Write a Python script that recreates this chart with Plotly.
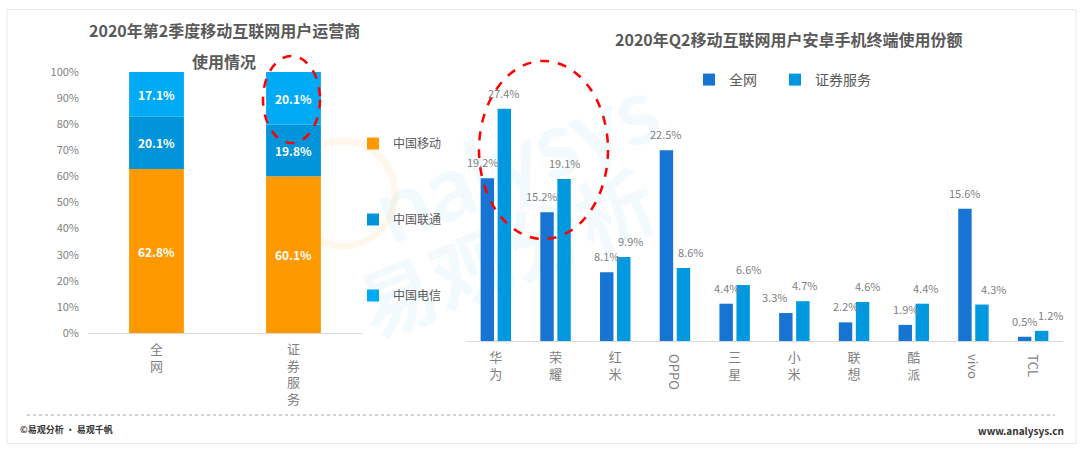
import plotly.graph_objects as go

W, H = 1080, 451

# ---------------- data ----------------
op_cats = ["全网", "证券服务"]
op_names = ["中国移动", "中国联通", "中国电信"]
op_mobile = [62.8, 60.1]
op_unicom = [20.1, 19.8]
op_telecom = [17.1, 20.1]
op_colors = ["#FF9900", "#0095DA", "#00AAF5"]

brand_cats = ["华为", "荣耀", "红米", "OPPO", "三星", "小米", "联想", "酷派", "vivo", "TCL"]
share_all = [19.2, 15.2, 8.1, 22.5, 4.4, 3.3, 2.2, 1.9, 15.6, 0.5]
share_sec = [27.4, 19.1, 9.9, 8.6, 6.6, 4.7, 4.6, 4.4, 4.3, 1.2]
share_names = ["全网", "证券服务"]
share_colors = ["#1874D2", "#0099E0"]

left_title = ["2020年第2季度移动互联网用户运营商", "使用情况"]
right_title = "2020年Q2移动互联网用户安卓手机终端使用份额"
footer_left = "©易观分析 · 易观千帆"
footer_right = "www.analysys.cn"

# ---------------- style ----------------
FONT = "Noto Sans CJK SC"
# small horizontal nudges of the value labels (px), as in the original layout
label_nudge = [
    [-4, -5, 0, 0, 0, -11, 0, 0, 0, 0],
    [0, 1, 7, 7, 5, 2, 5, 3, 12, 9],
]

# the page is photographed with an 8px band above/below and squeezed to 451px
Y_OFF, Y_SCALE = 8.0, 435.0 / 451.0


def px(x):
    return x / W


def py(y):
    return 1 - ((y - Y_OFF) / Y_SCALE) / H


fig = go.Figure()

# ---------- left stacked bars ----------
series = [op_mobile, op_unicom, op_telecom]
base = [0.0] * len(op_cats)
for name, vals, col in zip(op_names, series, op_colors):
    fig.add_trace(go.Bar(
        x=op_cats, y=vals, base=list(base), width=0.40,
        name=name, legend="legend", legendgroup=name,
        marker=dict(color=col, line=dict(width=0)),
        text=[f"{v:.1f}%" for v in vals], textposition="inside",
        insidetextanchor="middle", constraintext="none",
        textfont=dict(color="white", size=12, family=FONT, weight="bold"),
        xaxis="x", yaxis="y", hoverinfo="skip",
    ))
    base = [b + v for b, v in zip(base, vals)]

# ---------- right grouped bars ----------
offsets = [-0.255, 0.03]
bw = 0.225
cat_px = (1063 - 466) / len(brand_cats)
legends = ["legend2", "legend3"]
for k, (name, vals, col, off) in enumerate(zip(share_names, [share_all, share_sec], share_colors, offsets)):
    fig.add_trace(go.Bar(
        x=brand_cats, y=vals, width=bw, offset=off,
        name=name, legend=legends[k],
        marker=dict(color=col, line=dict(width=0)),
        xaxis="x2", yaxis="y2", hoverinfo="skip",
    ))
    shift = (off + bw / 2) * cat_px
    for c, v, dx in zip(brand_cats, vals, label_nudge[k]):
        fig.add_annotation(
            x=c, y=v, xref="x2", yref="y2", xshift=shift + dx, yshift=6,
            xanchor="center", yanchor="bottom", text=f"{v:.1f}%", showarrow=False,
            font=dict(size=11, color="#808080", family=FONT),
        )

# Latin category labels drawn rotated (Chinese ones are stacked tick labels)
tick_text = []
for c in brand_cats:
    if c.isascii():
        tick_text.append("")
        fig.add_annotation(
            x=c, xref="x2", y=py(351), yref="paper", xanchor="center", yanchor="top",
            text=c, textangle=90, showarrow=False,
            font=dict(size=13, color="#7F7F7F", family=FONT),
        )
    else:
        tick_text.append("<br>".join(c))


# ---------- titles & footer ----------
def label(x, y, text, size, color, xanchor="center", bold=True):
    fig.add_annotation(x=px(x), y=py(y), xref="paper", yref="paper", xanchor=xanchor,
                       yanchor="middle", text=text, showarrow=False,
                       font=dict(size=size, color=color, family=FONT,
                                 weight="bold" if bold else "normal"))


label(224, 29, left_title[0], 16, "#595959")
label(224, 60, left_title[1], 16, "#595959")
label(789, 38, right_title, 16, "#595959")
label(18, 428, footer_left, 9, "#333333", xanchor="left")
label(1066, 429, footer_right, 10, "#333333", xanchor="right")

shapes = [
    # frame
    dict(type="rect", xref="paper", yref="paper", x0=px(7), x1=px(1076), y0=0.001, y1=0.999,
         line=dict(color="#E8E8E8", width=1), layer="below"),
    # dotted separator
    dict(type="line", xref="paper", yref="paper", x0=px(27), x1=px(1055), y0=py(414), y1=py(414),
         line=dict(color="#A6A6A6", width=1, dash="dot")),
    # watermark
    dict(type="rect", xref="paper", yref="paper", x0=px(330), x1=px(700), y0=py(250), y1=py(60),
         line=dict(width=0), fillcolor="rgba(0,0,0,0)", layer="below",
         label=dict(text="nalysys", textangle=-22, textposition="middle center",
                    font=dict(size=92, color="rgba(0,160,233,0.05)", family="Lato", weight="bold"))),
    dict(type="rect", xref="paper", yref="paper", x0=px(360), x1=px(660), y0=py(330), y1=py(190),
         line=dict(width=0), fillcolor="rgba(0,0,0,0)", layer="below",
         label=dict(text="易观分析", textangle=-22, textposition="middle center",
                    font=dict(size=78, color="rgba(0,160,233,0.05)", family=FONT, weight="bold"))),
    dict(type="circle", xref="paper", yref="paper", x0=px(290), x1=px(395), y0=py(245), y1=py(140),
         line=dict(color="rgba(255,153,0,0.08)", width=7), layer="below"),
    # red dashed highlight ellipses
    dict(type="circle", xref="paper", yref="paper", x0=px(263), x1=px(320), y0=py(142), y1=py(55),
         line=dict(color="#FF0000", width=2.5, dash="dash")),
    dict(type="circle", xref="paper", yref="paper", x0=px(479), x1=px(608), y0=py(238), y1=py(60),
         line=dict(color="#FF0000", width=2.5, dash="dash")),
]

fig.update_layout(
    width=W, height=H, autosize=False,
    margin=dict(l=0, r=0, t=0, b=0),
    paper_bgcolor="white", plot_bgcolor="rgba(0,0,0,0)",
    barmode="overlay",
    font=dict(family=FONT, color="#595959"),
    showlegend=True,
    shapes=shapes,
    xaxis=dict(domain=[px(88), px(362)], range=[-0.5, 1.5], type="category",
               showline=True, linecolor="#D9D9D9", linewidth=1, ticks="",
               tickmode="array", tickvals=op_cats, ticktext=["<br>".join(c) for c in op_cats],
               tickfont=dict(size=13, color="#7F7F7F"), ticklabelstandoff=4,
               showgrid=False, zeroline=False, fixedrange=True, anchor="y"),
    yaxis=dict(domain=[py(332), py(71)], range=[0, 100], dtick=10, ticksuffix="%",
               showgrid=False, zeroline=False, showline=False, ticks="",
               tickfont=dict(size=11, color="#7F7F7F"), ticklabelstandoff=8,
               fixedrange=True, anchor="x"),
    xaxis2=dict(domain=[px(466), px(1063)], range=[-0.5, 9.5], type="category",
                showline=True, linecolor="#D9D9D9", linewidth=1, ticks="",
                tickmode="array", tickvals=brand_cats, ticktext=tick_text,
                tickfont=dict(size=13, color="#7F7F7F"), ticklabelstandoff=4,
                showgrid=False, zeroline=False, fixedrange=True, anchor="y2"),
    yaxis2=dict(domain=[py(340), py(80)], range=[0, 260 / 8.477], visible=False,
                fixedrange=True, anchor="x2"),
    legend=dict(orientation="v", x=px(353), xanchor="left", y=py(218.5), yanchor="middle",
                traceorder="grouped", tracegroupgap=57, bgcolor="rgba(0,0,0,0)",
                font=dict(size=12, color="#595959")),
    legend2=dict(orientation="h", x=px(689), xanchor="left", y=py(79), yanchor="middle",
                 bgcolor="rgba(0,0,0,0)", font=dict(size=14, color="#595959")),
    legend3=dict(orientation="h", x=px(775), xanchor="left", y=py(79), yanchor="middle",
                 bgcolor="rgba(0,0,0,0)", font=dict(size=14, color="#595959")),
)

fig.write_html("out.html", config={"displayModeBar": False},
               post_script="document.body.style.margin='0';")
